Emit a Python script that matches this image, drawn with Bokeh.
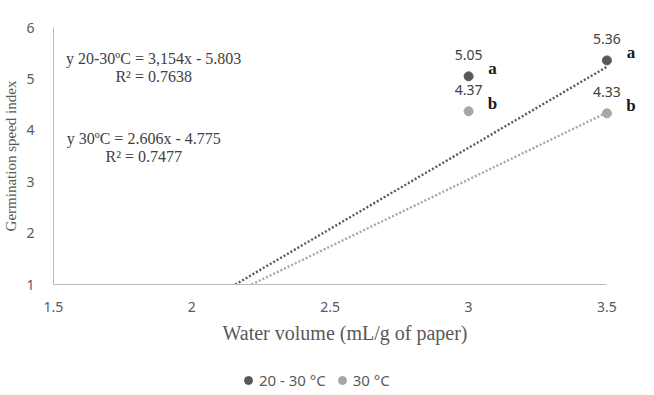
from bokeh.plotting import figure
from bokeh.models import Range1d, Legend, LegendItem, ColumnDataSource, Label
from bokeh.layouts import column
from bokeh.core.properties import value
from bokeh.embed import file_html
from bokeh.resources import INLINE
import numpy as np

# ---- data ----
water_volume = [3.0, 3.5]
gsi_20_30 = [5.05, 5.36]
gsi_30 = [4.37, 4.33]
letters_20_30 = ["a", "a"]
letters_30 = ["b", "b"]
series_names = ["20 - 30 °C", "30 °C"]
trend_20_30 = (3.154, -5.803)
trend_30 = (2.606, -4.775)
eq_20_30 = ["y 20-30ºC = 3,154x - 5.803", "R² = 0.7638"]
eq_30 = ["y 30ºC = 2.606x - 4.775", "R² = 0.7477"]
x_ticks = [1.5, 2, 2.5, 3, 3.5]
y_ticks = [1, 2, 3, 4, 5, 6]

DARK = "#595959"
LIGHT = "#a6a6a6"
TXT = "#404040"

p = figure(width=638, height=352, output_backend="svg", toolbar_location=None,
           x_range=Range1d(1.5, 3.5 + 30 / 281.0), y_range=Range1d(1, 6),
           min_border_left=44, min_border_right=2, min_border_top=27, min_border_bottom=68)
p.outline_line_color = None
p.grid.visible = False
p.background_fill_color = "white"
p.border_fill_color = "white"

for ax in (p.xaxis[0], p.yaxis[0]):
    ax.axis_line_color = "#bcbcbc"
    ax.axis_line_width = 1
    ax.major_tick_line_color = None
    ax.minor_tick_line_color = None
    ax.major_label_text_font = "Noto Sans"
    ax.major_label_text_font_size = "14px"
    ax.major_label_text_color = DARK
    ax.axis_label_text_font = "Liberation Serif"
    ax.axis_label_text_font_style = "normal"
    ax.axis_label_text_color = DARK

p.xaxis.bounds = (1.5, 3.5)
p.xaxis.ticker = x_ticks
p.xaxis.major_label_overrides = {1.5: "1.5", 2: "2", 2.5: "2.5", 3: "3", 3.5: "3.5"}
p.xaxis.major_label_standoff = 11
p.xaxis.axis_label = "Water volume (mL/g of paper)"
p.xaxis.axis_label_text_font_size = "20px"
p.xaxis.axis_label_standoff = 7

p.yaxis.ticker = y_ticks
p.yaxis.major_label_standoff = 13
p.yaxis.axis_label = "Germination speed index"
p.yaxis.axis_label_text_font_size = "15px"
p.yaxis.axis_label_standoff = 4

# trendlines (from y=1 up to x=3.5)
for (m, b), col in ((trend_20_30, DARK), (trend_30, LIGHT)):
    x0 = (1 - b) / m
    xs = np.linspace(x0, 3.5, 2)
    p.line(xs, m * xs + b, line_color=col, line_width=2.4, line_dash="2 2")

p.scatter(water_volume, gsi_20_30, size=9, color=DARK)
p.scatter(water_volume, gsi_30, size=9, color=LIGHT)

# data labels
for ys in (gsi_20_30, gsi_30):
    src = ColumnDataSource(dict(x=water_volume, y=ys, t=["%.2f" % v for v in ys]))
    p.text("x", "y", text="t", source=src, y_offset=-21, text_align="center",
           text_baseline="middle", text_font=value("Noto Sans"), text_font_size="14px",
           text_color=TXT)
for ys, lt in ((gsi_20_30, letters_20_30), (gsi_30, letters_30)):
    src = ColumnDataSource(dict(x=water_volume, y=ys, t=lt))
    p.text("x", "y", text="t", source=src, x_offset=24, y_offset=-8, text_align="center",
           text_baseline="middle", text_font=value("Liberation Serif"), text_font_size="17px",
           text_font_style="bold", text_color="#1a1a1a")

# equations
for lines, cx, cy in ((eq_20_30, 1.862, 5.40), (eq_30, 1.826, 3.84)):
    for i, s in enumerate(lines):
        p.add_layout(Label(x=cx, y=cy, y_offset=-18 * i, text=s, text_align="center",
                           text_baseline="middle", text_font="Liberation Serif",
                           text_font_size="16px", text_color=TXT))

# legend strip below the chart
lg = figure(width=638, height=38, output_backend="svg", toolbar_location=None,
            x_range=Range1d(0, 1), y_range=Range1d(0, 1), min_border=0)
lg.outline_line_color = None
lg.axis.visible = False
lg.grid.visible = False
d1 = lg.scatter(x=[-5], y=[-5], size=12, color=DARK)
d2 = lg.scatter(x=[-5], y=[-5], size=12, color=LIGHT)
legend = Legend(items=[LegendItem(label=series_names[0], renderers=[d1]),
                       LegendItem(label=series_names[1], renderers=[d2])],
                orientation="horizontal", location=(185, 0),
                border_line_color=None, background_fill_alpha=0,
                glyph_width=20, glyph_height=20, label_height=14, label_standoff=1,
                spacing=6, padding=0, margin=0, label_text_font="Noto Sans",
                label_text_font_size="15px", label_text_color=DARK)
lg.add_layout(legend, "center")

page = column(p, lg, spacing=0)
open("out.html", "w").write(file_html(page, INLINE))
